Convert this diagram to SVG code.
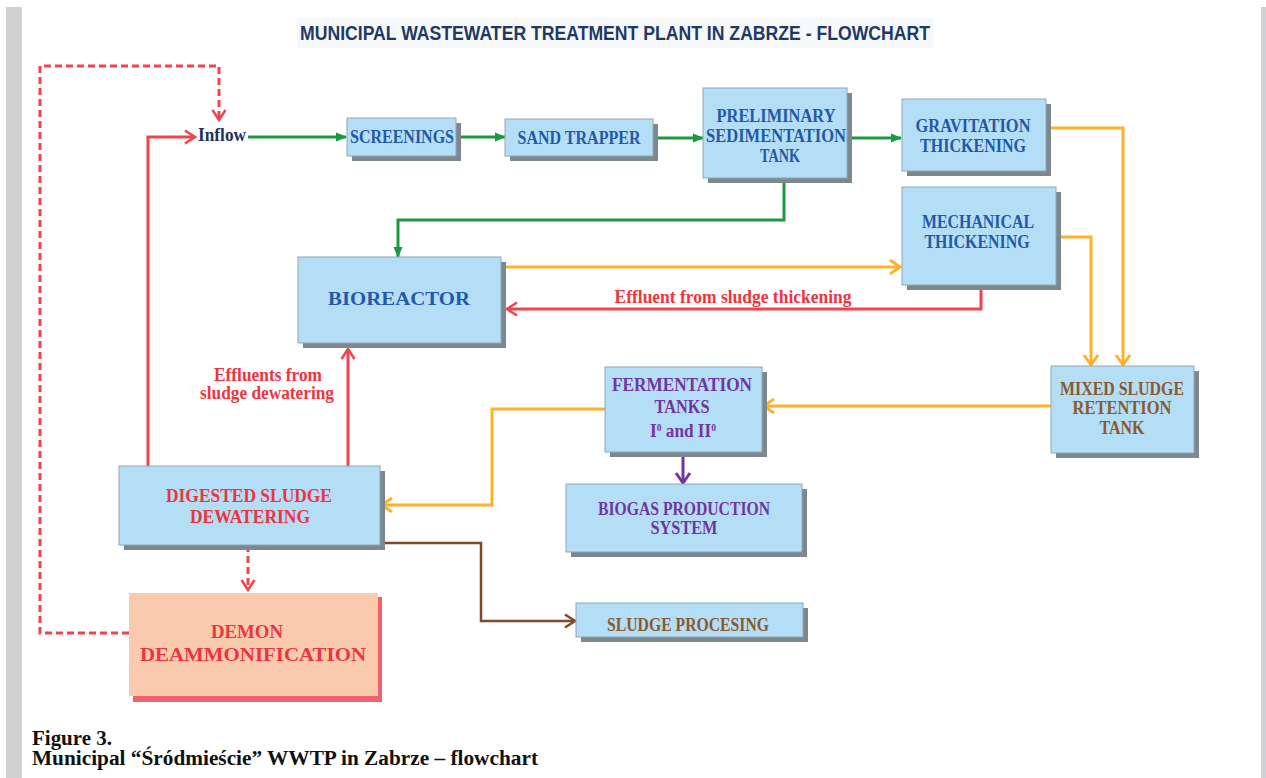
<svg xmlns="http://www.w3.org/2000/svg" width="1266" height="778" viewBox="0 0 1266 778">
<style>
.box{fill:#b4def5;stroke:#8fa8b8;stroke-width:1}
.sh{fill:#7d878e}
.t{font-family:"Liberation Serif","Times New Roman",serif;font-weight:bold;font-size:18px;text-anchor:middle}
.blue{fill:#2359a8}
.red{fill:#ec3540}
.purple{fill:#7235a0}
.brown{fill:#8a5a2e}
.c{fill:none;stroke-width:3;stroke-linejoin:miter}
.g{stroke:#1a9a40}
.o{stroke:#ffb12c}
.r{stroke:#f1434c}
.p{stroke:#7235a0}
.b{stroke:#7f4a28;stroke-width:2.5}
.d{stroke-dasharray:7 4}
</style>
<defs>
<marker id="mg" markerUnits="userSpaceOnUse" markerWidth="12" markerHeight="10" refX="10" refY="4.5" orient="auto" overflow="visible"><path d="M0,0 L11,4.5 L0,9 z" fill="#1a9a40"/></marker>
<marker id="mo" markerUnits="userSpaceOnUse" markerWidth="14" markerHeight="16" refX="10" refY="7" orient="auto" overflow="visible"><path d="M0,0 L10,7 L0,14" fill="none" stroke="#ffb12c" stroke-width="3"/></marker>
<marker id="mr" markerUnits="userSpaceOnUse" markerWidth="14" markerHeight="16" refX="10" refY="6.5" orient="auto" overflow="visible"><path d="M0,0 L10,6.5 L0,13" fill="none" stroke="#f1434c" stroke-width="2.5"/></marker>
<marker id="mp" markerUnits="userSpaceOnUse" markerWidth="14" markerHeight="16" refX="10" refY="7" orient="auto" overflow="visible"><path d="M0,0 L10,7 L0,14" fill="none" stroke="#7235a0" stroke-width="3"/></marker>
<marker id="mb" markerUnits="userSpaceOnUse" markerWidth="14" markerHeight="16" refX="10" refY="6.5" orient="auto" overflow="visible"><path d="M0,0 L10,6.5 L0,13" fill="none" stroke="#7f4a28" stroke-width="2.5"/></marker>
</defs>
<rect x="0" y="0" width="1266" height="778" fill="#ffffff"/>
<rect x="6" y="7" width="16" height="771" fill="#d0d1d3"/>
<rect x="1261" y="7" width="5" height="771" fill="#d0d1d3"/>
<g id="title">
<rect x="297" y="18" width="636" height="30" fill="#f7f8fa"/>
<text x="615" y="40" font-family="'Liberation Sans',Arial,sans-serif" font-weight="bold" font-size="20" fill="#1f3864" text-anchor="middle" textLength="630" lengthAdjust="spacingAndGlyphs">MUNICIPAL WASTEWATER  TREATMENT PLANT  IN ZABRZE - FLOWCHART</text>
</g>
<g id="connectors">
<path class="c r d" d="M129,633 H40 V66 H219 V120" marker-end="url(#mr)"/>
<path class="c r" d="M148,466 V137 H195" marker-end="url(#mr)"/>
<path class="c g" d="M248,137 H346" marker-end="url(#mg)"/>
<path class="c g" d="M456,137 H505" marker-end="url(#mg)"/>
<path class="c g" d="M653,138 H703" marker-end="url(#mg)"/>
<path class="c g" d="M847,138 H901" marker-end="url(#mg)"/>
<path class="c g" d="M784,178 V220 H398 V257" marker-end="url(#mg)"/>
<path class="c o" d="M1046,128 H1123 V365" marker-end="url(#mo)"/>
<path class="c o" d="M1056,237 H1091 V365" marker-end="url(#mo)"/>
<path class="c o" d="M505,267 H900" marker-end="url(#mo)"/>
<path class="c r" d="M981,285 V309 H507" marker-end="url(#mr)"/>
<path class="c o" d="M1051,406 H764" marker-end="url(#mo)"/>
<path class="c o" d="M605,409 H492 V505 H382" marker-end="url(#mo)"/>
<path class="c p" d="M683,452 V483" marker-end="url(#mp)"/>
<path class="c r" d="M348,466 V349" marker-end="url(#mr)"/>
<path class="c r d" d="M248,545 V590" marker-end="url(#mr)"/>
<path class="c b" d="M385,543 H481 V621 H575" marker-end="url(#mb)"/>
<text class="t red" x="733" y="303" font-size="18" textLength="237" lengthAdjust="spacingAndGlyphs">Effluent from sludge thickening</text>
<text class="t red" x="268" y="381" font-size="16" textLength="108" lengthAdjust="spacingAndGlyphs">Effluents from</text>
<text class="t red" x="267" y="399" font-size="16" textLength="134" lengthAdjust="spacingAndGlyphs">sludge dewatering</text>
</g>
<g id="inflow">
<text class="t" x="222" y="141" fill="#1f2f62" font-size="17" textLength="48" lengthAdjust="spacingAndGlyphs">Inflow</text>
</g>
<g id="screenings">
<rect class="sh" x="352" y="123" width="109" height="38"/>
<rect class="box" x="347" y="118" width="109" height="38"/>
<text class="t blue" x="402" y="143" textLength="104" lengthAdjust="spacingAndGlyphs">SCREENINGS</text>
</g>
<g id="sand-trapper">
<rect class="sh" x="510" y="124" width="148" height="37"/>
<rect class="box" x="505" y="119" width="148" height="37"/>
<text class="t blue" x="579" y="144" textLength="123" lengthAdjust="spacingAndGlyphs">SAND TRAPPER</text>
</g>
<g id="preliminary-sedimentation">
<rect class="sh" x="708" y="93" width="144" height="90"/>
<rect class="box" x="703" y="88" width="144" height="90"/>
<text class="t blue" x="776" y="122" textLength="119" lengthAdjust="spacingAndGlyphs">PRELIMINARY</text>
<text class="t blue" x="776" y="142" textLength="140" lengthAdjust="spacingAndGlyphs">SEDIMENTATION</text>
<text class="t blue" x="780" y="162" textLength="40" lengthAdjust="spacingAndGlyphs">TANK</text>
</g>
<g id="gravitation-thickening">
<rect class="sh" x="907" y="104" width="144" height="72"/>
<rect class="box" x="902" y="99" width="144" height="72"/>
<text class="t blue" x="973" y="132" textLength="115" lengthAdjust="spacingAndGlyphs">GRAVITATION</text>
<text class="t blue" x="973" y="152" textLength="106" lengthAdjust="spacingAndGlyphs">THICKENING</text>
</g>
<g id="mechanical-thickening">
<rect class="sh" x="907" y="192" width="154" height="98"/>
<rect class="box" x="902" y="187" width="154" height="98"/>
<text class="t blue" x="978" y="228" textLength="112" lengthAdjust="spacingAndGlyphs">MECHANICAL</text>
<text class="t blue" x="977" y="248" textLength="105" lengthAdjust="spacingAndGlyphs">THICKENING</text>
</g>
<g id="bioreactor">
<rect class="sh" x="303" y="262" width="203" height="86"/>
<rect class="box" x="298" y="257" width="203" height="86"/>
<text class="t blue" x="399" y="305" font-size="22" textLength="142" lengthAdjust="spacingAndGlyphs">BIOREACTOR</text>
</g>
<g id="mixed-sludge-retention-tank">
<rect class="sh" x="1056" y="371" width="143" height="87"/>
<rect class="box" x="1051" y="366" width="143" height="87"/>
<text class="t brown" x="1122" y="395" textLength="124" lengthAdjust="spacingAndGlyphs">MIXED SLUDGE</text>
<text class="t brown" x="1122" y="414" textLength="99" lengthAdjust="spacingAndGlyphs">RETENTION</text>
<text class="t brown" x="1122" y="434" textLength="45" lengthAdjust="spacingAndGlyphs">TANK</text>
</g>
<g id="fermentation-tanks">
<rect class="sh" x="610" y="372" width="157" height="85"/>
<rect class="box" x="605" y="367" width="157" height="85"/>
<text class="t purple" x="682" y="391" textLength="140" lengthAdjust="spacingAndGlyphs">FERMENTATION</text>
<text class="t purple" x="682" y="413" textLength="55" lengthAdjust="spacingAndGlyphs">TANKS</text>
<text class="t purple" x="683" y="437" textLength="66" lengthAdjust="spacingAndGlyphs">I<tspan font-size="10" dy="-6">0</tspan><tspan dy="6"> and II</tspan><tspan font-size="10" dy="-6">0</tspan></text>
</g>
<g id="biogas-production-system">
<rect class="sh" x="571" y="489" width="236" height="68"/>
<rect class="box" x="566" y="484" width="236" height="68"/>
<text class="t purple" x="684" y="515" textLength="172" lengthAdjust="spacingAndGlyphs">BIOGAS PRODUCTION</text>
<text class="t purple" x="684" y="534" textLength="67" lengthAdjust="spacingAndGlyphs">SYSTEM</text>
</g>
<g id="digested-sludge-dewatering">
<rect class="sh" x="124" y="471" width="261" height="79"/>
<rect class="box" x="119" y="466" width="261" height="79"/>
<text class="t red" x="249" y="502" textLength="166" lengthAdjust="spacingAndGlyphs">DIGESTED SLUDGE</text>
<text class="t red" x="250" y="523" textLength="120" lengthAdjust="spacingAndGlyphs">DEWATERING</text>
</g>
<g id="demon-deammonification">
<rect x="133" y="597" width="249" height="105" fill="#f2606c"/>
<rect x="129" y="593" width="249" height="103" fill="#f9caae"/>
<text class="t red" x="247" y="638" font-size="20" textLength="72" lengthAdjust="spacingAndGlyphs">DEMON</text>
<text class="t red" x="253" y="661" font-size="21" textLength="226" lengthAdjust="spacingAndGlyphs">DEAMMONIFICATION</text>
</g>
<g id="sludge-procesing">
<rect class="sh" x="581" y="608" width="227" height="34"/>
<rect class="box" x="576" y="603" width="227" height="34"/>
<text class="t brown" x="688" y="631" textLength="162" lengthAdjust="spacingAndGlyphs">SLUDGE PROCESING</text>
</g>
<g id="caption">
<text x="32" y="745" font-family="'Liberation Serif','Times New Roman',serif" font-weight="bold" font-size="20" fill="#111" textLength="80" lengthAdjust="spacingAndGlyphs">Figure 3.</text>
<text x="32" y="765" font-family="'Liberation Serif','Times New Roman',serif" font-weight="bold" font-size="20" fill="#111" textLength="506" lengthAdjust="spacingAndGlyphs">Municipal “Śródmieście” WWTP in Zabrze – flowchart</text>
</g>
</svg>
